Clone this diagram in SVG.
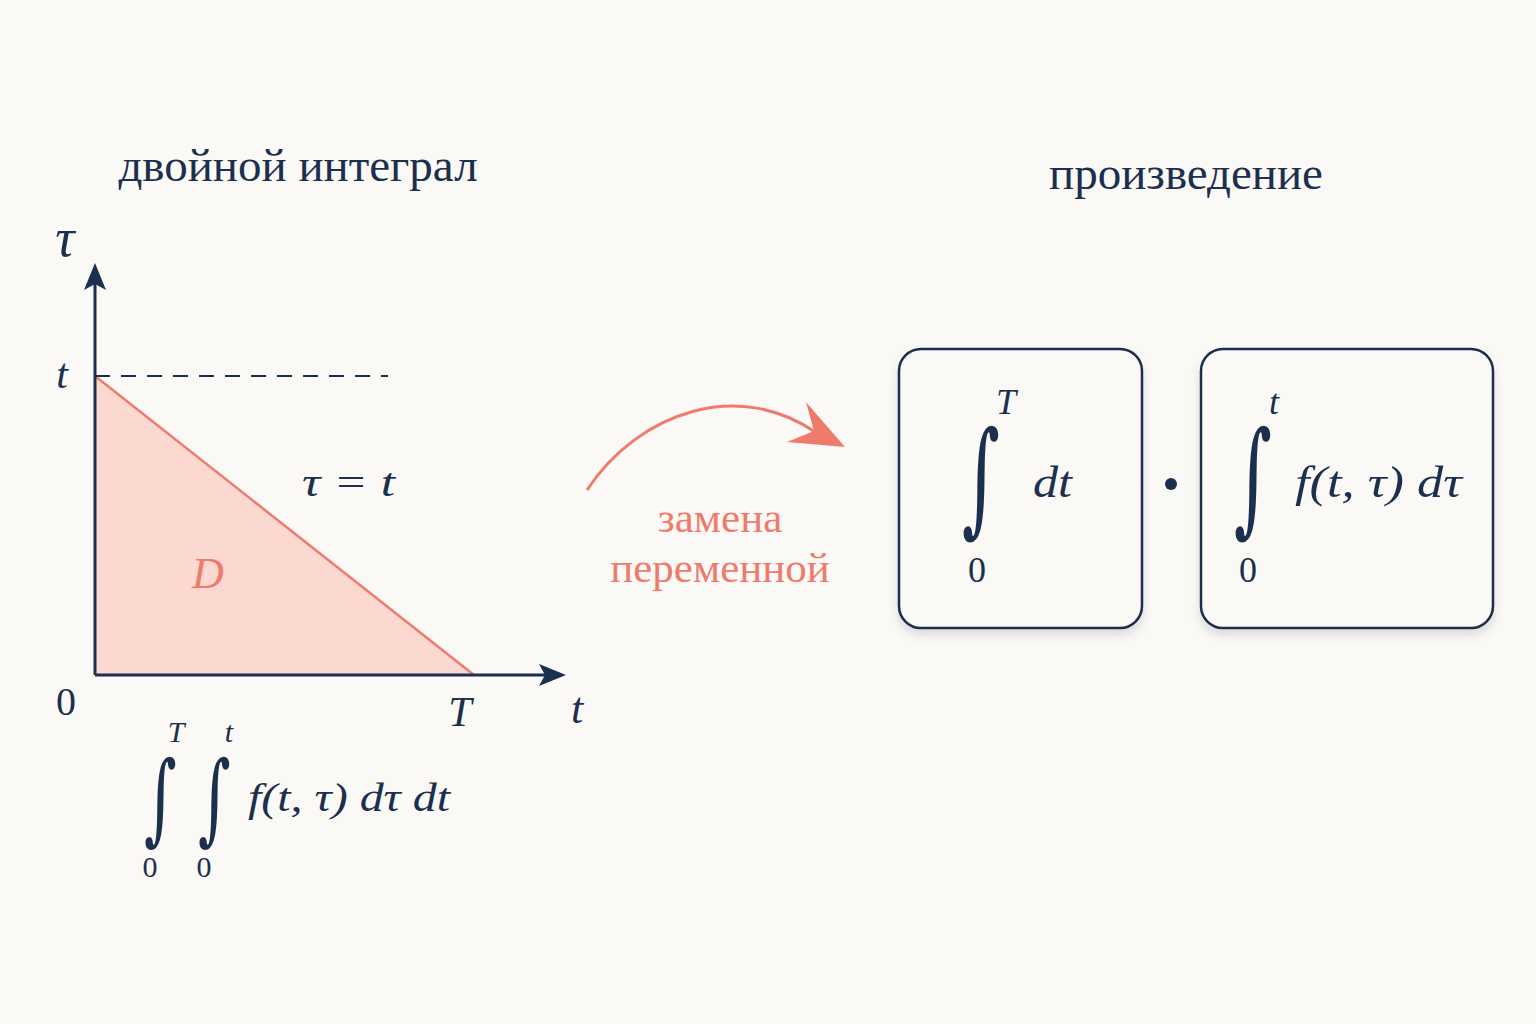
<svg xmlns="http://www.w3.org/2000/svg" width="1536" height="1024" viewBox="0 0 1536 1024">
<defs>
<style>
.t{font-family:"Liberation Serif","DejaVu Serif",serif;fill:#1b2f4e}
.m{font-family:"Liberation Serif","DejaVu Serif",serif;font-style:italic;fill:#1b2f4e}
.box{fill:#fbf9f6;stroke:#1b2f4e;stroke-width:2.5}
.ax{stroke:#1b2f4e;stroke-width:3;fill:none}
.int{font-family:"DejaVu Serif",serif;fill:#1b2f4e}
.sal{fill:#ee7b6c}
</style>
<filter id="sh" x="-10%" y="-10%" width="120%" height="125%">
<feDropShadow dx="0" dy="6" stdDeviation="5" flood-color="#000" flood-opacity="0.12"/>
</filter>
</defs>
<rect width="1536" height="1024" fill="#fbf9f6"/>

<g id="titles">
<text class="t" x="298" y="181" font-size="47" text-anchor="middle">двойной интеграл</text>
<text class="t" x="1186" y="189" font-size="47" text-anchor="middle">произведение</text>
</g>

<g id="graph">
<polygon points="95,376 95,675 474,675" fill="#fbd9d0"/>
<line x1="95" y1="376" x2="474" y2="675" stroke="#ee7b6c" stroke-width="2.5"/>
<line x1="95" y1="376" x2="388" y2="376" stroke="#1b2f4e" stroke-width="2" stroke-dasharray="15,11"/>
<line class="ax" x1="95" y1="675" x2="95" y2="268"/>
<path d="M95,263 L106,290 L95,284 L84,290 Z" fill="#1b2f4e"/>
<line class="ax" x1="95" y1="675" x2="560" y2="675"/>
<path d="M566,675 L539,686 L545,675 L539,664 Z" fill="#1b2f4e"/>
<text class="m" x="65" y="256" font-size="54" text-anchor="middle">τ</text>
<text class="m" x="62" y="388" font-size="42" text-anchor="middle">t</text>
<text class="t" x="66" y="715" font-size="40" text-anchor="middle">0</text>
<text class="m" x="460" y="726" font-size="42" text-anchor="middle">T</text>
<text class="m" x="577" y="723" font-size="44" text-anchor="middle">t</text>
<text class="m" x="302" y="496" font-size="40" textLength="93" lengthAdjust="spacingAndGlyphs">τ = t</text>
<text class="m sal" x="208" y="588" font-size="44" text-anchor="middle">D</text>
</g>

<g id="double-integral">
<text class="int" x="0" y="0" font-size="74" transform="translate(144,832) scale(0.85,1.35)">∫</text>
<text class="int" x="0" y="0" font-size="74" transform="translate(198,832) scale(0.85,1.35)">∫</text>
<text class="m" x="176" y="742" font-size="30" text-anchor="middle">T</text>
<text class="m" x="229" y="742" font-size="30" text-anchor="middle">t</text>
<text class="t" x="150" y="877" font-size="30" text-anchor="middle">0</text>
<text class="t" x="204" y="877" font-size="30" text-anchor="middle">0</text>
<text class="m" x="248" y="811" font-size="40" textLength="202" lengthAdjust="spacingAndGlyphs">f(t, τ) dτ dt</text>
</g>

<g id="connectors">
<path d="M587,490 C640,410 740,380 815,432" fill="none" stroke="#ee7b6c" stroke-width="3"/>
<path d="M845,447 L806,402 L814,431 L787,442 Z" fill="#ee7b6c"/>
</g>
<g id="label-change">
<text class="t sal" x="720" y="532" font-size="43" text-anchor="middle">замена</text>
<text class="t sal" x="720" y="582" font-size="43" text-anchor="middle">переменной</text>
</g>

<g id="box-outer">
<rect class="box" x="899" y="349" width="243" height="279" rx="22" filter="url(#sh)"/>
<text class="int" x="0" y="0" font-size="86" transform="translate(962,520) scale(0.85,1.45)">∫</text>
<text class="m" x="1006" y="414" font-size="36" text-anchor="middle">T</text>
<text class="t" x="977" y="582" font-size="36" text-anchor="middle">0</text>
<text class="m" x="1033" y="497" font-size="44" textLength="39" lengthAdjust="spacingAndGlyphs">dt</text>
</g>

<circle id="dot" cx="1171" cy="484" r="6" fill="#1b2f4e"/>

<g id="box-inner">
<rect class="box" x="1201" y="349" width="292" height="279" rx="22" filter="url(#sh)"/>
<text class="int" x="0" y="0" font-size="86" transform="translate(1234,520) scale(0.85,1.45)">∫</text>
<text class="m" x="1274" y="414" font-size="36" text-anchor="middle">t</text>
<text class="t" x="1248" y="582" font-size="36" text-anchor="middle">0</text>
<text class="m" x="1295" y="497" font-size="44" textLength="167" lengthAdjust="spacingAndGlyphs">f(t, τ) dτ</text>
</g>
</svg>
